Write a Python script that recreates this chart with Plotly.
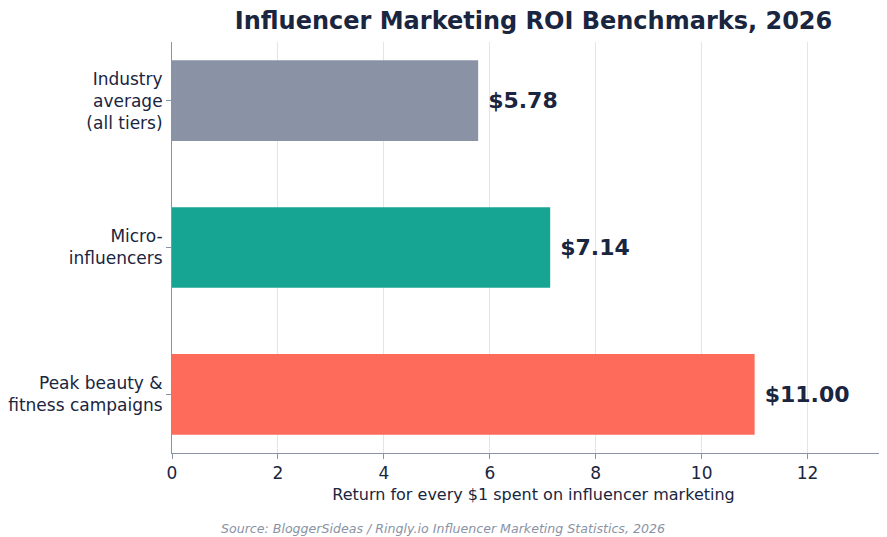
import plotly.graph_objects as go

categories = ["Industry<br>average<br>(all tiers)", "Micro-<br>influencers", "Peak beauty &<br>fitness campaigns"]
roi_values = [5.78, 7.14, 11.00]
bar_colors = ["#8a93a6", "#17a593", "#ff6b5b"]
value_labels = [f"${v:.2f}" for v in roi_values]
x_ticks = [0, 2, 4, 6, 8, 10, 12]

navy = "#1a2540"
slate = "#8a93a6"

fig = go.Figure()
fig.add_trace(
    go.Bar(
        y=categories, x=roi_values,
        orientation="h",
        marker=dict(color=bar_colors, line=dict(width=0)),
        width=0.55,
        text=value_labels,
        textposition="outside",
        textfont=dict(size=22, color=navy, family="DejaVu Sans"),
        texttemplate="\u00a0<b>%{text}</b>",
        cliponaxis=False,
    )
)

fig.update_layout(
    width=887, height=537,
    margin=dict(l=164, r=0, t=34, b=92),
    plot_bgcolor="white", paper_bgcolor="white",
    font=dict(family="DejaVu Sans", color=navy, size=17),
    title=dict(
        text="<b>Influencer Marketing ROI Benchmarks, 2026</b>",
        x=0.5, xref="paper", xanchor="center",
        y=0.993, yref="container", yanchor="top",
        pad=dict(t=0, b=0),
        font=dict(size=24, color=navy),
    ),
    showlegend=False,
    annotations=[
        dict(
            text="<i>Source: BloggerSideas / Ringly.io Influencer Marketing Statistics, 2026</i>",
            x=0.3755, xref="paper", y=-0.183, yref="paper", yanchor="middle",
            xanchor="center", showarrow=False,
            font=dict(size=12.6, color=slate),
        )
    ],
)
fig.update_xaxes(
    range=[0, 13.65], tickvals=x_ticks,
    showgrid=True, gridcolor="#e3e5ea", gridwidth=1,
    showline=True, linecolor=slate, linewidth=1,
    ticks="outside", ticklen=5, tickcolor=slate,
    zeroline=False, automargin=False,
    tickfont=dict(size=17, color=navy),
    title=dict(text="Return for every $1 spent on influencer marketing", font=dict(size=16, color=navy), standoff=6),
)
fig.update_yaxes(
    autorange=False, range=[2.4, -0.4],
    showline=True, linecolor=slate, linewidth=1,
    ticks="outside", ticklen=5, tickcolor=slate,
    tickfont=dict(size=17, color=navy),
    showgrid=False, automargin=False,
)

fig.write_html("out.html")
